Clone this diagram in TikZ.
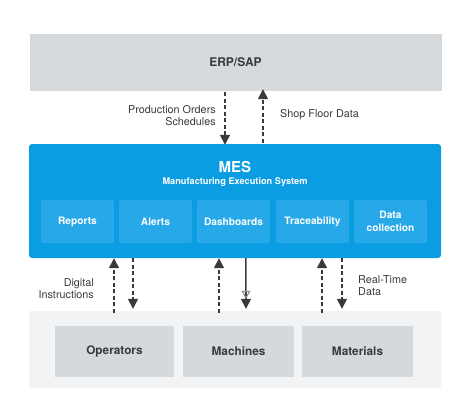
\documentclass[tikz,border=0pt]{standalone}
\usepackage{fontspec}
\setmainfont{TeX Gyre Heros}
\usetikzlibrary{arrows.meta}
\definecolor{erpgray}{HTML}{D6DADC}
\definecolor{mesblue}{HTML}{0A9DE1}
\definecolor{subblue}{HTML}{27A9E9}
\definecolor{floorbg}{HTML}{F2F3F4}
\definecolor{boxgray}{HTML}{D5D9DB}
\definecolor{txtdark}{HTML}{3A3A3A}
\definecolor{tipgray}{HTML}{8A8A8A}
\tikzset{
  erpbox/.style={fill=erpgray, draw=none, minimum width=412pt, minimum height=57pt, inner sep=0pt, font=\bfseries\fontsize{12}{14}\selectfont, text=txtdark},
  mesbox/.style={fill=mesblue, draw=none, rounded corners=3pt, minimum width=412pt, minimum height=114pt, inner sep=0pt},
  modbox/.style={fill=subblue, draw=none, rounded corners=2pt, minimum width=73pt, minimum height=43pt, inner sep=0pt, align=center, text=white, font=\bfseries\fontsize{10.2}{12.5}\selectfont},
  floorbox/.style={fill=floorbg, draw=none, minimum width=412pt, minimum height=77pt, inner sep=0pt},
  resbox/.style={fill=boxgray, draw=none, minimum height=51pt, inner sep=0pt, text=txtdark, font=\bfseries\fontsize{11.8}{14}\selectfont},
  lbl/.style={text=txtdark, font=\fontsize{10.8}{12}\selectfont, inner sep=0pt},
  flow/.style={draw=txtdark, line width=1.4pt, dash pattern=on 4pt off 2.5pt, -{Triangle[length=10pt,width=10pt]}},
  solidflow/.style={draw=txtdark, line width=1.3pt, -{Triangle[length=10pt,width=10pt]}},
  ghosttip/.style={draw=tipgray, line width=1pt, -{Triangle[open,length=8pt,width=9pt]}},
}
\begin{document}
\begin{tikzpicture}[x=1pt,y=-1pt]
\useasboundingbox (0,0) rectangle (474,412);
% top
\node[erpbox] (erp) at (235.5,62.5) {ERP/SAP};
% MES
\node[mesbox] (mes) at (235,201) {};
\node[text=white, font=\bfseries\fontsize{15}{17}\selectfont, inner sep=0pt] (mest) at (235,167) {MES};
\node[text=white, font=\bfseries\fontsize{9.2}{10}\selectfont, inner sep=0pt] (mess) at (235,182) {Manufacturing Execution System};
\node[modbox] (rep) at (77.5,221.5) {Reports};
\node[modbox] (ale) at (155.5,221.5) {Alerts};
\node[modbox] (das) at (233.5,221.5) {Dashboards};
\node[modbox] (tra) at (312.5,221.5) {Traceability};
\node[modbox] (dat) at (390.5,221.5) {Data\\collection};
% floor
\node[floorbox] (floor) at (235,349.5) {};
\node[resbox, minimum width=119pt] (ope) at (114.5,351.5) {Operators};
\node[resbox, minimum width=111pt] (mac) at (238.5,351.5) {Machines};
\node[resbox, minimum width=111pt] (mat) at (357.5,351.5) {Materials};
% x positions
\coordinate (xa) at (225,0);
\coordinate (xb) at (263,0);
\coordinate (x1) at (114,0);
\coordinate (x2) at (133,0);
\coordinate (x3) at (219,0);
\coordinate (x4) at (246,0);
\coordinate (x5) at (322,0);
\coordinate (x6) at (342,0);
% ERP <-> MES
\draw[flow] ([yshift=-1pt]erp.south -| xa) -- ([yshift=-1pt]mes.north -| xa);
\draw[flow] ([yshift=1pt]mes.north -| xb) -- ([yshift=2pt]erp.south -| xb);
% MES <-> floor
\draw[flow] ([yshift=-2pt]floor.north -| x1) -- (mes.south -| x1);
\draw[flow] (mes.south -| x2) -- ([yshift=2pt]floor.north -| x2);
\draw[flow] ([yshift=-2pt]floor.north -| x3) -- (mes.south -| x3);
\draw[solidflow] (mes.south -| x4) -- ([yshift=2pt]floor.north -| x4);
\draw[ghosttip, shorten >=12pt] (mes.south -| x4) -- (floor.north -| x4);
\draw[flow] ([yshift=-2pt]floor.north -| x5) -- (mes.south -| x5);
\draw[flow] (mes.south -| x6) -- ([yshift=2pt]floor.north -| x6);
% labels
\node[lbl, anchor=east, align=right] (lpo) at (216,116) {Production Orders\\Schedules};
\node[lbl, anchor=west, align=left] (lsf) at (280,115) {Shop Floor Data};
\node[lbl, anchor=east, align=right] (ldi) at (94,288.5) {Digital\\Instructions};
\node[lbl, anchor=west, align=left] (lrt) at (358,285.5) {Real-Time\\Data};
\end{tikzpicture}
\end{document}
